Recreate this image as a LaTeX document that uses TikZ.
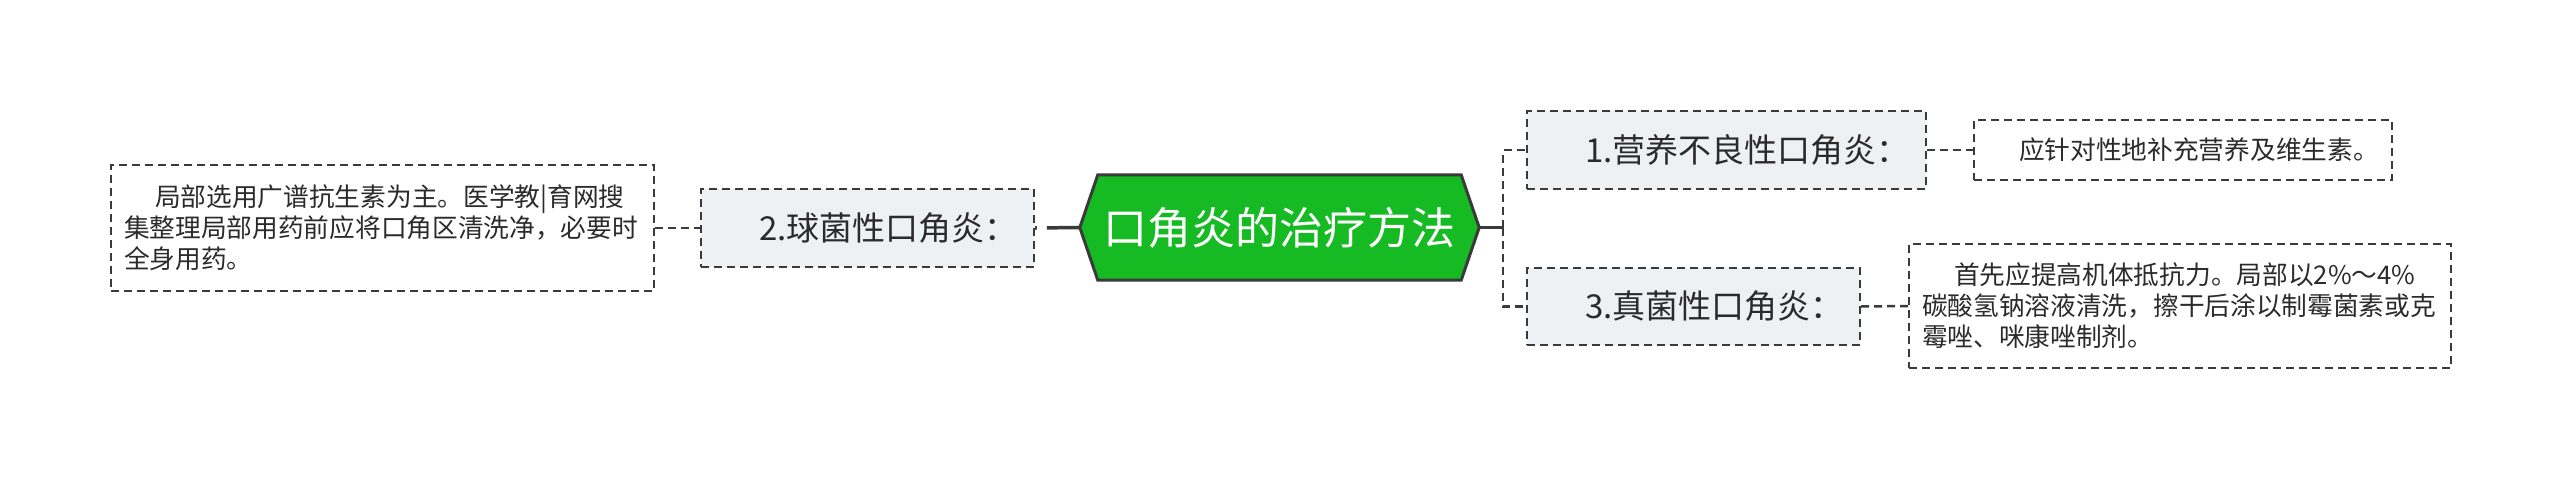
\documentclass[tikz,border=0pt]{standalone}
\usepackage{fontspec}
\newfontfamily\cjk{Noto Sans CJK SC}
\usetikzlibrary{backgrounds}
\definecolor{hexgreen}{HTML}{16BA22}
\definecolor{edgegray}{HTML}{3A3A3A}
\definecolor{boxfill}{HTML}{EEF1F4}
\definecolor{txtgray}{HTML}{2B2B2B}
\begin{document}
\begin{tikzpicture}[x=1pt,y=-1pt,
  topicbox/.style={draw=edgegray, fill=boxfill, line width=2pt, dash pattern=on 8pt off 5pt,
    inner xsep=0pt, inner ysep=0pt, align=left, anchor=north west, text=txtgray,
    font=\cjk\fontsize{33}{40}\selectfont},
  leafbox/.style={draw=edgegray, fill=white, line width=2pt, dash pattern=on 8pt off 5pt,
    inner ysep=0pt, anchor=north west, align=left, text=txtgray,
    font=\cjk\fontsize{25.7}{31}\selectfont},
  link/.style={draw=edgegray, line width=2.5pt, dash pattern=on 8pt off 5pt},
  mainlink/.style={draw=edgegray, line width=3.5pt},
  centre/.style={inner sep=0pt, minimum width=399pt, minimum height=105pt, text=white,
    font=\cjk\fontsize{44}{50}\selectfont}
]
\useasboundingbox (0,0) rectangle (2560,479);

% central node
\node[centre] (c) at (1279.5,227.5) {口角炎的治疗方法};
\begin{scope}[on background layer]
\fill[white] (0,0) rectangle (2560,479);
\draw[fill=hexgreen, draw=edgegray, line width=3pt, line join=miter]
  (c.west) -- ([xshift=18pt]c.north west) -- ([xshift=-18pt]c.north east) -- (c.east)
  -- ([xshift=-18pt]c.south east) -- ([xshift=18pt]c.south west) -- cycle;
\end{scope}

% topics
\node[topicbox, text width=399pt, minimum height=78pt] (n1) at (1526,110)
  {\hspace*{58pt}1.营养不良性口角炎：};
\node[topicbox, text width=333pt, minimum height=77pt] (n3) at (1526,267)
  {\hspace*{58pt}3.真菌性口角炎：};
\node[topicbox, text width=333pt, minimum height=78pt] (n2) at (700,188)
  {\hspace*{58pt}2.球菌性口角炎：};

% leaves
\node[leafbox, inner xsep=0pt, text width=418pt, minimum height=60pt] (l1) at (1973,119)
  {\hspace*{45pt}应针对性地补充营养及维生素。};
\node[leafbox, inner xsep=13pt, text width=516pt, minimum height=124pt] (l3) at (1908,243)
  {\hspace*{32pt}首先应提高机体抵抗力。局部以2\%～4\%\\
   碳酸氢钠溶液清洗，擦干后涂以制霉菌素或克\\
   霉唑、咪康唑制剂。};
\node[leafbox, inner xsep=13pt, text width=517pt, minimum height=126pt] (l2) at (110,164)
  {\hspace*{31pt}局部选用广谱抗生素为主。医学教|育网搜\\
   集整理局部用药前应将口角区清洗净，必要时\\
   全身用药。};

% connectors
\coordinate (t) at (1503,227.5);
\draw[mainlink, dash pattern=on 33pt off 10pt] (c.west) -- (n2.east);
\draw[mainlink] (c.east) -- (t);
\draw[link] (t) |- (n1.west);
\draw[link] (t) |- (n3.west);
\draw[link] (n1.east) -- (l1.west);
\draw[link] (n3.east) -- (l3.west);
\draw[link] (l2.east) -- (n2.west);
\end{tikzpicture}
\end{document}
